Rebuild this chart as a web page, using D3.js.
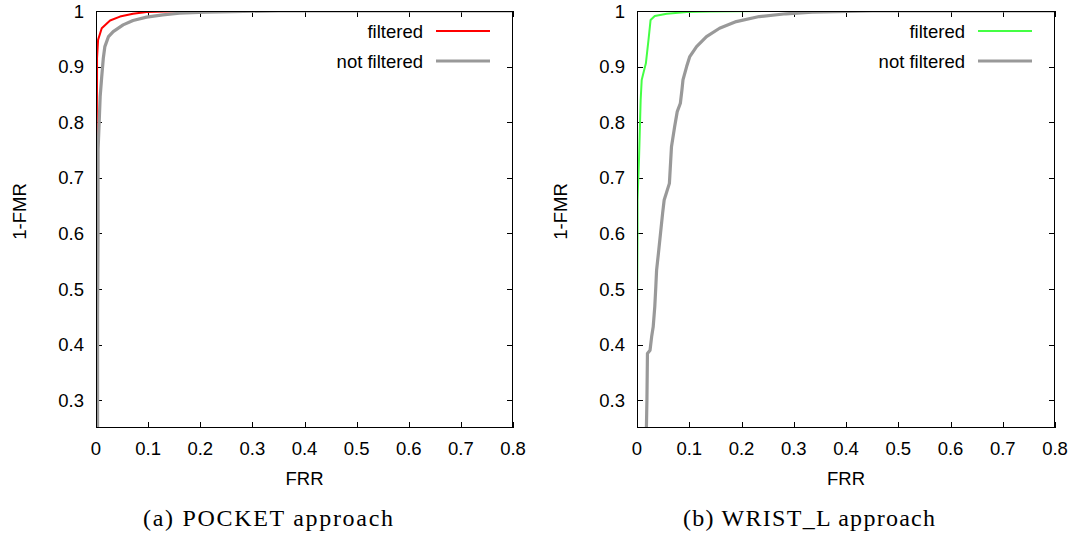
<!DOCTYPE html>
<html>
<head>
<meta charset="utf-8">
<script src="https://cdn.jsdelivr.net/npm/d3@7/dist/d3.min.js"></script>
<style>
  html, body { margin: 0; padding: 0; background: #fff; }
  svg { display: block; }
  .tick-label, .axis-title, .legend-text { font-family: "Liberation Sans", Arial, sans-serif; fill: #000; }
  .caption { font-family: "Liberation Serif", "DejaVu Serif", serif; fill: #000; }
</style>
</head>
<body>
<svg id="chart" width="1073" height="535"></svg>
<script>
// Axis ticks shared by both panels
const xTickValues = [0, 0.1, 0.2, 0.3, 0.4, 0.5, 0.6, 0.7, 0.8];
const yTickValues = [0.3, 0.4, 0.5, 0.6, 0.7, 0.8, 0.9, 1];
const xDomain = [0, 0.8];
const yDomain = [0.25, 1];

// ROC curves: [FRR, 1-FMR]
const pocketFiltered = [
  [0, 0.25], [0.001, 0.4], [0.001, 0.7], [0.002, 0.88], [0.002, 0.915],
  [0.004, 0.948], [0.011, 0.969], [0.027, 0.983], [0.046, 0.990],
  [0.071, 0.995], [0.097, 0.998], [0.13, 0.999], [0.2, 1], [0.8, 1]
];
const pocketNotFiltered = [
  [0.003, 0.25], [0.003, 0.45], [0.004, 0.6], [0.004, 0.75], [0.008, 0.846],
  [0.011, 0.882], [0.014, 0.915], [0.017, 0.936], [0.024, 0.954],
  [0.033, 0.963], [0.052, 0.975], [0.071, 0.983], [0.097, 0.989],
  [0.128, 0.993], [0.16, 0.996], [0.21, 0.998], [0.26, 0.999], [0.35, 1], [0.8, 1]
];
const wristFiltered = [
  [0, 0.25], [0, 0.45], [0.001, 0.6], [0.001, 0.66], [0.004, 0.738],
  [0.007, 0.84], [0.009, 0.876], [0.013, 0.891], [0.017, 0.906],
  [0.022, 0.948], [0.026, 0.984], [0.034, 0.991], [0.057, 0.995],
  [0.095, 0.998], [0.14, 0.999], [0.25, 1], [0.8, 1]
];
const wristNotFiltered = [
  [0.018, 0.25], [0.019, 0.3], [0.020, 0.384], [0.025, 0.39], [0.028, 0.414],
  [0.031, 0.432], [0.034, 0.468], [0.036, 0.504], [0.0375, 0.534],
  [0.041, 0.564], [0.045, 0.60], [0.049, 0.636], [0.052, 0.66],
  [0.062, 0.69], [0.066, 0.756], [0.072, 0.792], [0.077, 0.819],
  [0.083, 0.834], [0.086, 0.858], [0.088, 0.876], [0.095, 0.9],
  [0.101, 0.918], [0.114, 0.936], [0.133, 0.954], [0.158, 0.969],
  [0.19, 0.981], [0.234, 0.99], [0.285, 0.995], [0.335, 0.998],
  [0.38, 0.999], [0.45, 1], [0.8, 1]
];

const seriesNames = ["filtered", "not filtered"];
const captions = ["(a) POCKET approach", "(b) WRIST_L approach"];

const svg = d3.select("#chart");
const tickLen = 6;
const fontSize = 18.5;

const panels = [
  { left: 96, right: 513, top: 11, bottom: 428, caption: captions[0], capX: 143, capW: 250,
    series: [
      { name: seriesNames[0], data: pocketFiltered, color: "#ff0000", width: 2 },
      { name: seriesNames[1], data: pocketNotFiltered, color: "#999999", width: 3.2 }
    ] },
  { left: 637, right: 1055, top: 11, bottom: 428, caption: captions[1], capX: 683, capW: 252,
    series: [
      { name: seriesNames[0], data: wristFiltered, color: "#44ff44", width: 2 },
      { name: seriesNames[1], data: wristNotFiltered, color: "#999999", width: 3.2 }
    ] }
];

panels.forEach((p, i) => {
  const g = svg.append("g");
  const x = d3.scaleLinear().domain(xDomain).range([p.left, p.right]);
  const y = d3.scaleLinear().domain(yDomain).range([p.bottom, p.top]);

  const clipId = "clip" + i;
  g.append("clipPath").attr("id", clipId)
    .append("rect").attr("x", p.left).attr("y", p.top)
    .attr("width", p.right - p.left).attr("height", p.bottom - p.top);

  // inward ticks on all four sides
  const tickG = g.append("g").attr("stroke", "#000").attr("stroke-width", 1);
  xTickValues.forEach(v => {
    const px = Math.round(x(v)) + 0.5;
    tickG.append("line").attr("x1", px).attr("x2", px).attr("y1", p.bottom).attr("y2", p.bottom - tickLen);
    tickG.append("line").attr("x1", px).attr("x2", px).attr("y1", p.top).attr("y2", p.top + tickLen);
  });
  yTickValues.forEach(v => {
    const py = Math.round(y(v)) + 0.5;
    tickG.append("line").attr("x1", p.left).attr("x2", p.left + tickLen).attr("y1", py).attr("y2", py);
    tickG.append("line").attr("x1", p.right).attr("x2", p.right - tickLen).attr("y1", py).attr("y2", py);
  });

  // tick labels
  g.selectAll(".xl").data(xTickValues).enter().append("text")
    .attr("class", "tick-label").attr("x", d => x(d)).attr("y", 448)
    .attr("text-anchor", "middle").attr("dominant-baseline", "central")
    .attr("font-size", fontSize).text(d => d3.format("")(d));
  g.selectAll(".yl").data(yTickValues).enter().append("text")
    .attr("class", "tick-label").attr("x", p.left - 12).attr("y", d => y(d))
    .attr("text-anchor", "end").attr("dominant-baseline", "central")
    .attr("font-size", fontSize).text(d => d3.format("")(d));

  // curves
  const line = d3.line().x(d => x(d[0])).y(d => y(d[1]));
  const curves = g.append("g").attr("clip-path", `url(#${clipId})`);
  p.series.forEach(s => {
    curves.append("path").attr("d", line(s.data)).attr("fill", "none")
      .attr("stroke", s.color).attr("stroke-width", s.width)
      .attr("stroke-linejoin", "round");
  });

  // frame
  g.append("rect").attr("x", p.left + 0.5).attr("y", p.top + 0.5)
    .attr("width", p.right - p.left - 1).attr("height", p.bottom - p.top - 1)
    .attr("fill", "none").attr("stroke", "#000").attr("stroke-width", 1);

  // legend
  const legTextX = p.right - 90, legLineX1 = p.right - 77, legLineX2 = p.right - 23;
  p.series.forEach((s, k) => {
    const ly = 31 + k * 30;
    g.append("text").attr("class", "legend-text").attr("x", legTextX).attr("y", ly)
      .attr("text-anchor", "end").attr("dominant-baseline", "central")
      .attr("font-size", fontSize).text(s.name);
    g.append("line").attr("x1", legLineX1).attr("x2", legLineX2)
      .attr("y1", ly).attr("y2", ly).attr("stroke", s.color).attr("stroke-width", s.width);
  });

  // axis titles
  const cx = (p.left + p.right) / 2;
  g.append("text").attr("class", "axis-title").attr("x", cx).attr("y", 478)
    .attr("text-anchor", "middle").attr("dominant-baseline", "central")
    .attr("font-size", fontSize).text("FRR");
  g.append("text").attr("class", "axis-title")
    .attr("transform", `translate(${p.left - 77},${(p.top + p.bottom) / 2 - 8}) rotate(-90)`)
    .attr("text-anchor", "middle").attr("dominant-baseline", "central")
    .attr("font-size", fontSize).text("1-FMR");

  // caption
  g.append("text").attr("class", "caption").attr("x", p.capX).attr("y", 526)
    .attr("text-anchor", "start")
    .attr("textLength", p.capW).attr("lengthAdjust", "spacing")
    .attr("font-size", 24).text(p.caption);
});
</script>
</body>
</html>
